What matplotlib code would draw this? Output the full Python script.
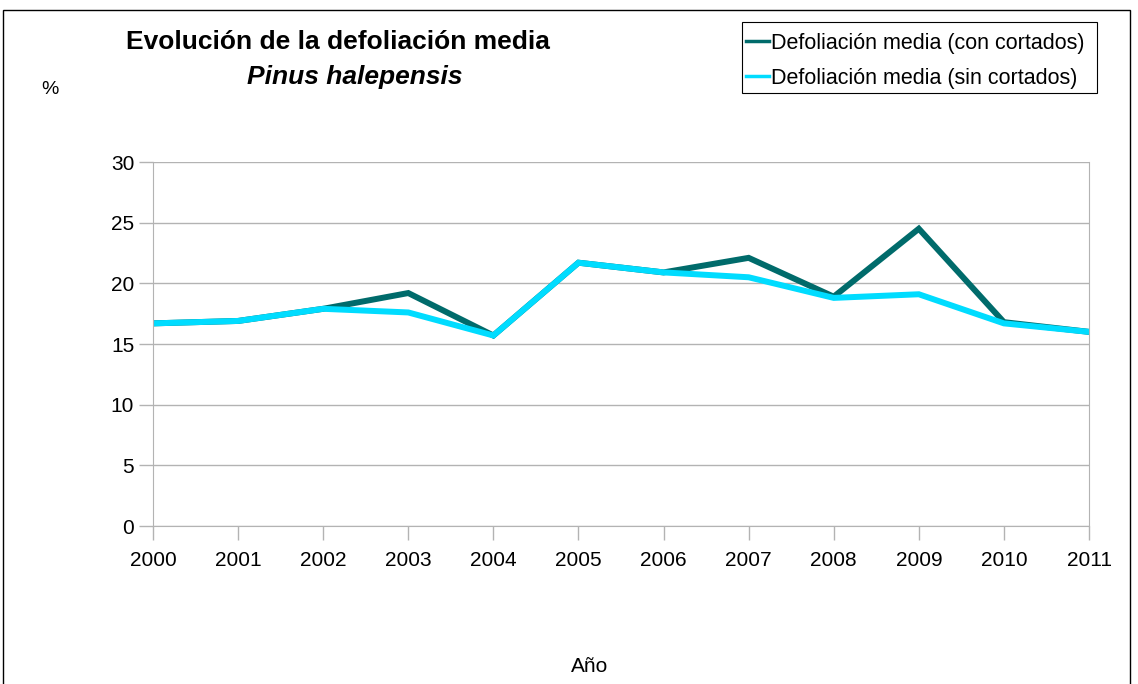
import matplotlib
matplotlib.use("Agg")
import matplotlib.pyplot as plt
from matplotlib.patches import Rectangle

plt.rcParams["font.family"] = ["Liberation Sans", "DejaVu Sans"]

years = ["2000", "2001", "2002", "2003", "2004", "2005",
         "2006", "2007", "2008", "2009", "2010", "2011"]
con_cortados = [16.7, 16.9, 17.9, 19.2, 15.7, 21.7, 20.9, 22.1, 18.9, 24.5, 16.8, 16.0]
sin_cortados = [16.7, 16.9, 17.9, 17.6, 15.7, 21.7, 20.9, 20.5, 18.8, 19.1, 16.7, 16.0]

W, H = 1138, 684
fig = plt.figure(figsize=(W / 100, H / 100), dpi=100)
ax = fig.add_axes([153 / W, 1 - 526 / H, (1089 - 153) / W, (526 - 162) / H])

x = list(range(len(years)))
ax.plot(x, con_cortados, color="#006b6b", lw=4.3, label="Defoliación media (con cortados)",
        solid_joinstyle="miter")
ax.plot(x, sin_cortados, color="#00dcff", lw=4.3, label="Defoliación media (sin cortados)",
        solid_joinstyle="miter")

ax.set_xlim(0, len(years) - 1)
ax.set_ylim(0, 30)
ax.set_xticks(x)
ax.set_xticklabels(years)
ax.set_yticks(range(0, 31, 5))
ax.yaxis.grid(True, color="#b3b3b3", lw=1)
ax.set_axisbelow(True)
for s in ax.spines.values():
    s.set_color("#b3b3b3")
ax.spines["top"].set_visible(False)
ax.tick_params(axis="both", colors="#b3b3b3", labelcolor="black", labelsize=15,
               length=10, width=1)
ax.tick_params(axis="x", pad=8)
ax.tick_params(axis="y", pad=3.5)

fig.text(338 / W, 1 - 42 / H, "Evolución de la defoliación media", ha="center", va="center",
         fontsize=19, fontweight="bold")
fig.text(355 / W, 1 - 77 / H, "Pinus halepensis", ha="center", va="center",
         fontsize=19, fontweight="bold", style="italic")
fig.text(50 / W, 1 - 90 / H, "%", ha="center", va="center", fontsize=14)
fig.text(590 / W, 1 - 666 / H, "Año", ha="center", va="center", fontsize=15)

# legend without its own frame; box drawn separately
leg = fig.legend(loc="upper left", bbox_to_anchor=(746 / W, 1 - 33 / H), fontsize=15.5,
                 frameon=False, handlelength=1.05, handletextpad=0.1, borderpad=0,
                 labelspacing=0.65, borderaxespad=0)
for h in leg.get_lines():
    h.set_linewidth(2.5)
fig.patches.append(Rectangle((742 / W, 1 - 93 / H), (1097 - 742) / W, (93 - 22) / H,
                             transform=fig.transFigure, fill=False, edgecolor="black", lw=0.8))

fig.patches.append(Rectangle((3 / W, -0.05), (1130 - 3) / W, 1.05 - 10 / H,
                             transform=fig.transFigure, fill=False, edgecolor="black", lw=1))

fig.savefig("out.png", dpi=100)
